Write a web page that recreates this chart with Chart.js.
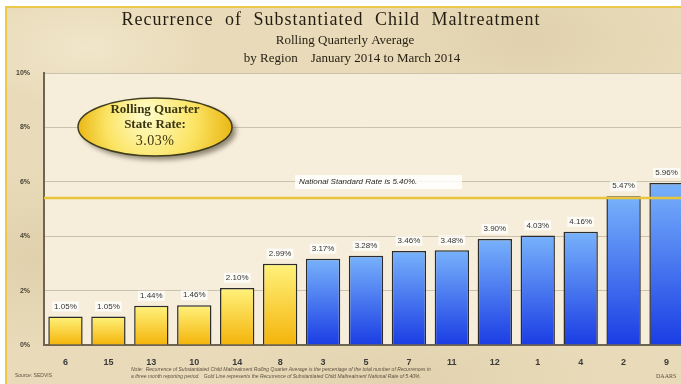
<!DOCTYPE html>
<html>
<head>
<meta charset="utf-8">
<script src="https://cdn.jsdelivr.net/npm/chart.js@4/dist/chart.umd.min.js"></script>
<style>
  html, body { margin:0; padding:0; width:681px; height:384px; overflow:hidden; background:#fff; }
  #frame {
    position:absolute; left:5px; top:6px; width:720px; height:400px;
    border-left:2px solid #ecc94a; border-top:2px solid #ecc94a;
    background:
      radial-gradient(ellipse 120px 60px at 80px 40px, rgba(255,250,235,.35), transparent),
      radial-gradient(ellipse 160px 80px at 520px 30px, rgba(200,180,140,.25), transparent),
      radial-gradient(ellipse 140px 90px at 30px 250px, rgba(205,185,145,.3), transparent),
      radial-gradient(ellipse 200px 60px at 400px 370px, rgba(210,190,150,.3), transparent),
      #e9dbb9;
  }
  #wrap { position:absolute; left:0; top:0; width:700px; height:384px; }
</style>
</head>
<body>
<div id="frame"></div>
<div id="wrap"><canvas id="c" width="700" height="384"></canvas></div>
<script>
// regions, sorted by rolling-quarter recurrence rate
const regions = ["6","15","13","10","14","8","3","5","7","11","12","1","4","2","9"];
const rates   = [1.05, 1.05, 1.44, 1.46, 2.10, 2.99, 3.17, 3.28, 3.46, 3.48, 3.90, 4.03, 4.16, 5.47, 5.96];
const yTicks  = [0, 2, 4, 6, 8, 10];
const nationalRate = 5.40;
const stateRate    = 3.03;

const TITLE    = "Recurrence of Substantiated Child Maltreatment";
const SUBTITLE = ["Rolling Quarterly Average", "by Region    January 2014 to March 2014"];
const NOTE = [
  "Note:  Recurrence of Substantiated Child Maltreatment Rolling Quarter Average is the percentage of the total number of Recurrences in",
  "a three month reporting period.   Gold Line represents the Recurrence of Substantiated Child Maltreatment National Rate of 5.40%."
];

const SANS  = "'Liberation Sans', Arial, sans-serif";
const SERIF = "'Liberation Serif', 'Times New Roman', serif";

function barFill(ctx) {
  const chart = ctx.chart, area = chart.chartArea;
  if (!area) return "#f5c020";
  const v = ctx.raw;
  const g = chart.ctx.createLinearGradient(0, area.bottom, 0, chart.scales.y.getPixelForValue(v));
  if (v < stateRate) {
    g.addColorStop(0, "#f4b40a");
    g.addColorStop(1, "#fff27c");
  } else {
    g.addColorStop(0, "#1a3de4");
    g.addColorStop(1, "#78b2fb");
  }
  return g;
}

// cream plot panel
const panelBg = {
  id: "panelBg",
  beforeDraw(chart) {
    const { ctx, chartArea: a } = chart;
    ctx.save();
    ctx.fillStyle = "#f6eedb";
    ctx.fillRect(a.left, a.top, a.right - a.left, a.bottom - a.top);
    ctx.restore();
  }
};

// titles, notes, national line, value tags, state-rate bubble
const decor = {
  id: "decor",
  afterDraw(chart) {
    const { ctx, chartArea: a, scales: { x, y } } = chart;
    ctx.save();

    // headings
    ctx.fillStyle = "#231d12";
    ctx.textAlign = "center";
    ctx.textBaseline = "middle";
    ctx.font = "18px " + SERIF;
    ctx.letterSpacing = "1px";
    ctx.wordSpacing = "6px";
    ctx.fillText(TITLE, 331, 20);
    ctx.wordSpacing = "0px";
    ctx.letterSpacing = "0px";
    ctx.font = "13px " + SERIF;
    ctx.fillText(SUBTITLE[0], 345, 41);
    ctx.fillText(SUBTITLE[1], 352, 59);

    // footer
    ctx.textAlign = "left";
    ctx.fillStyle = "#5a5040";
    ctx.font = "5px " + SANS;
    ctx.fillText("Source: SEDVIS", 15, 376);
    ctx.font = "italic 5px " + SANS;
    ctx.fillText(NOTE[0], 131, 370);
    ctx.fillText(NOTE[1], 131, 377);
    ctx.font = "6px " + SERIF;
    ctx.fillText("DAARS", 656, 376);

    // national standard line
    const ny = y.getPixelForValue(nationalRate);
    ctx.strokeStyle = "#e9c53c";
    ctx.lineWidth = 2.5;
    ctx.beginPath();
    ctx.moveTo(a.left, ny);
    ctx.lineTo(a.right, ny);
    ctx.stroke();

    const nText = "National Standard Rate is " + nationalRate.toFixed(2) + "%.";
    ctx.font = "italic 8px " + SANS;
    ctx.fillStyle = "rgba(255,255,255,0.85)";
    ctx.fillRect(295, ny - 23, 167, 14);
    ctx.fillStyle = "#2a2a2a";
    ctx.fillText(nText, 299, ny - 16);

    // value tags above bars
    const meta = chart.getDatasetMeta(0);
    ctx.font = "8px " + SANS;
    ctx.textAlign = "center";
    meta.data.forEach((bar, i) => {
      const t = rates[i].toFixed(2) + "%";
      const w = ctx.measureText(t).width + 4;
      const ty = bar.y - 10;
      ctx.fillStyle = "rgba(255,255,255,0.75)";
      ctx.fillRect(bar.x - w / 2, ty - 5, w, 10);
      ctx.fillStyle = "#333";
      ctx.fillText(t, bar.x, ty);
    });

    // state rate bubble
    const cx = 155, cy = 127, rx = 77, ry = 29;
    ctx.save();
    ctx.shadowColor = "rgba(60,50,30,0.55)";
    ctx.shadowBlur = 5;
    ctx.shadowOffsetX = 4;
    ctx.shadowOffsetY = 4;
    const rg = ctx.createRadialGradient(cx - 10, cy - 14, 5, cx, cy, rx);
    rg.addColorStop(0, "#fffbc4");
    rg.addColorStop(0.55, "#fbe463");
    rg.addColorStop(1, "#eab715");
    ctx.fillStyle = rg;
    ctx.beginPath();
    ctx.ellipse(cx, cy, rx, ry, 0, 0, Math.PI * 2);
    ctx.fill();
    ctx.restore();
    ctx.strokeStyle = "#3e3c1c";
    ctx.lineWidth = 1.5;
    ctx.beginPath();
    ctx.ellipse(cx, cy, rx, ry, 0, 0, Math.PI * 2);
    ctx.stroke();

    ctx.fillStyle = "#3b3612";
    ctx.font = "bold 13px " + SERIF;
    ctx.fillText("Rolling Quarter", cx, cy - 17);
    ctx.fillText("State Rate:", cx, cy - 2);
    ctx.font = "14px " + SERIF;
    ctx.letterSpacing = "0.5px";
    ctx.fillText(stateRate.toFixed(2) + "%", cx, cy + 14);

    ctx.restore();
  }
};

new Chart(document.getElementById("c"), {
  type: "bar",
  data: {
    labels: regions,
    datasets: [{
      data: rates,
      backgroundColor: barFill,
      borderColor: "#2c2c2c",
      borderWidth: 1.5,
      borderSkipped: "bottom",
      barPercentage: 0.8,
      categoryPercentage: 1.0,
    }]
  },
  options: {
    responsive: false,
    animation: false,
    layout: { padding: { top: 73, right: 12, bottom: 19, left: 0 } },
    plugins: { legend: { display: false }, tooltip: { enabled: false } },
    scales: {
      x: {
        grid: { display: false },
        border: { color: "#6d6452", width: 2 },
        ticks: { font: { family: SANS, size: 9, weight: "bold" }, color: "#3a3a3a", padding: 4 },
        afterFit: s => { s.height = 20; }
      },
      y: {
        min: 0, max: 10,
        afterBuildTicks: s => { s.ticks = yTicks.map(v => ({ value: v })); },
        grid: { color: "rgba(150,140,120,0.45)", lineWidth: 1, drawTicks: false },
        border: { color: "#6d6452", width: 2 },
        ticks: {
          font: { family: SANS, size: 7, weight: "bold" },
          color: "#4a4438",
          padding: 14,
          callback: v => v + "%"
        },
        afterFit: s => { s.width = 44; }
      }
    }
  },
  plugins: [panelBg, decor]
});
</script>
</body>
</html>
